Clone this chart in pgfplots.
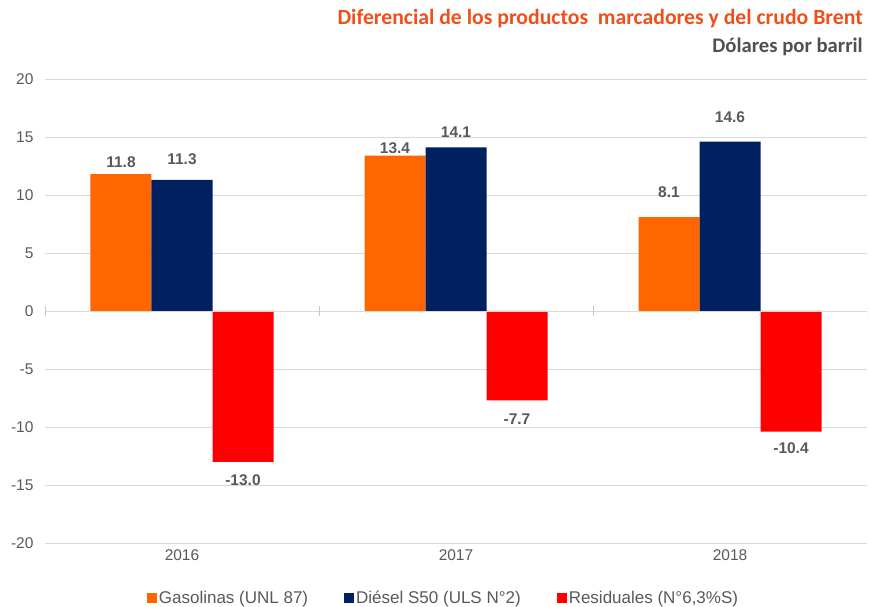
\documentclass[border=0pt]{standalone}
\usepackage{pgfplots}
\usepackage{pgfplotstable}
\pgfplotsset{compat=1.18}
\usepackage{fontspec}
\setmainfont{Liberation Sans}
\newfontfamily\calibri{Carlito}
\definecolor{cOrange}{HTML}{FF6600}
\definecolor{cNavy}{HTML}{002060}
\definecolor{cRed}{HTML}{FF0000}
\definecolor{cTitle}{HTML}{F04E1A}
\definecolor{cSub}{HTML}{505050}
\definecolor{cTick}{HTML}{595959}
\definecolor{cGrid}{HTML}{D9D9D9}
% x = year index, y = value, dy = label offset (pt)
\pgfplotstableread{
x y dy
0 11.8 3
1 13.4 -1.5
2 8.1 16
}\gasolinas
\pgfplotstableread{
x y dy
0 11.3 12
1 14.1 6
2 14.6 15
}\diesel
\pgfplotstableread{
x y dy
0 -13.0 -9
1 -7.7 -9.7
2 -10.4 -7.6
}\residuales
\begin{document}
\begin{tikzpicture}
\useasboundingbox (-45pt,-64pt) rectangle (825pt,543pt);
\begin{axis}[
  at={(0pt,0pt)}, anchor=south west,
  scale only axis,
  width=822pt, height=464pt,
  xmin=-0.5, xmax=2.5,
  ymin=-20, ymax=20,
  ytick={-20,-15,...,20},
  xtick={0,1,2},
  xticklabels={2016,2017,2018},
  axis line style={draw=none},
  major tick length=0pt,
  ymajorgrids, grid style={cGrid, line width=0.8pt},
  ybar=0pt, bar width=61pt,
  tick label style={font=\fontsize{15.5}{18}\selectfont, text=cTick},
  /pgf/number format/assume math mode=true,
  yticklabel style={xshift=-8pt},
  xticklabel style={yshift=-3pt},
  nodes near coords,
  visualization depends on={\thisrow{dy} \as \dy},
  nodes near coords style={font=\bfseries\fontsize{15.5}{18}\selectfont, text=cTick, yshift=\dy pt,
    /pgf/number format/.cd, fixed, fixed zerofill, precision=1, assume math mode=true},
  legend columns=3,
  legend style={at={(0.5,0)}, anchor=north, yshift=-46pt, xshift=-13pt, draw=none,
    font=\fontsize{17}{20}\selectfont, text=cTick, inner sep=0pt,
    /tikz/every even column/.append style={column sep=35pt},
    /tikz/every odd column/.append style={column sep=1pt},
    nodes={inner xsep=1pt}},
  legend image code/.code={\fill[#1] (0pt,-5pt) rectangle (10pt,5pt);},
  legend cell align=left,
]
\addplot[fill=cOrange, draw=none] table[x=x, y=y] {\gasolinas};
\addplot[fill=cNavy, draw=none] table[x=x, y=y] {\diesel};
\addplot[fill=cRed, draw=none] table[x=x, y=y] {\residuales};
\legend{{Gasolinas (UNL 87)},{Diésel S50 (ULS N°2)},{Residuales (N°6,3\%S)}}
\draw[cGrid, line width=0.8pt] (axis cs:-0.5,0) -- (axis cs:2.5,0);
\pgfplotsinvokeforeach{-0.5,0.5,1.5,2.5}{
  \draw[cGrid!80!gray, line width=0.8pt] (axis cs:#1,0) ++(0pt,-5pt) -- ++(0pt,10pt);
}
\end{axis}
\node[anchor=base east, inner sep=0pt, text=cTitle, font=\calibri\bfseries\fontsize{21.7}{24}\selectfont] at (818pt,518pt) {Diferencial de los productos\ \ marcadores y del crudo Brent};
\node[anchor=base east, inner sep=0pt, text=cSub, font=\calibri\bfseries\fontsize{20.7}{24}\selectfont] at (818pt,490pt) {Dólares por barril};
\end{tikzpicture}
\end{document}
